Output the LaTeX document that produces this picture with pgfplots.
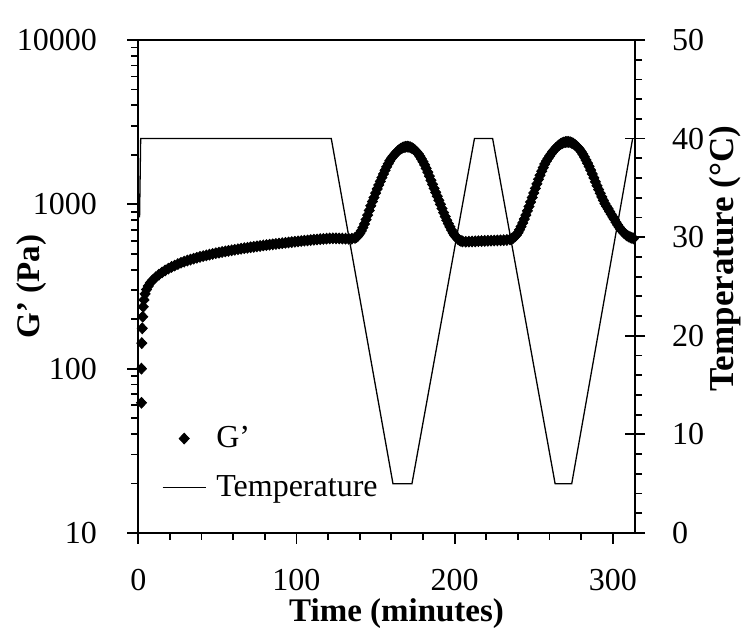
\documentclass[border=0pt]{standalone}
\usepackage{fontspec}
\setmainfont{Liberation Serif}
\usepackage{pgfplots}
\pgfplotsset{compat=1.18}
\newcommand\fs{\fontsize{16}{19}\selectfont}
\pgfplotsset{
  markleg/.style={legend image code/.code={\draw[mark repeat=2, mark phase=2, ##1] plot coordinates {(0pt,0pt) (10.75pt,0pt) (21.5pt,0pt)};}},
  lineleg/.style={legend image code/.code={\draw[##1] (0pt,0pt) -- (21.5pt,0pt);}},
}

% G' (Pa) against time (minutes)
\pgfplotstableread{
t g
2.0 62
2.0 100
2.2 143
2.5 176
2.8 207
3.1 238
3.6 262
4.3 285
5.2 303
6.3 318
7.5 332
9 345
11 360
13 373
15 385
17 396
19 406
21 416
23 424
25 433
27 441
29 448
31 455
33 461
35 467
37 473
39 479
41 484
43 489
45 494
47 499
49 504
51 508
53 513
55 517
57 521
59 525
61 529
63 533
65 537
67 541
69 544
71 548
73 551
75 555
77 558
79 562
81 565
83 568
85 571
87 574
89 577
91 580
93 583
95 586
97 589
99 592
101 595
103 598
105 601
107 603
109 606
111 609
113 611
115 614
117 616
119 618
121 620
123 621
125 621
127 620
129 619
131 618
133 617
135 618
137 625
139 645
141 690
143 760
145 860
147 980
149 1100
151 1240
153 1380
155 1530
157 1690
159 1840
161 1960
163 2060
165 2150
167 2210
169 2240
171 2240
173 2200
175 2130
177 2030
179 1890
181 1740
183 1570
185 1400
187 1250
189 1120
191 1000
193 890
195 800
197 730
199 670
201 630
203 605
205 595
207 592
209 593
211 594
213 595
215 597
217 598
219 599
221 600
223 601
225 602
227 603
229 604
231 605
233 607
235 612
237 625
239 650
241 700
243 770
245 860
247 970
249 1100
251 1250
253 1420
255 1590
257 1760
259 1900
261 2030
263 2150
265 2250
267 2330
269 2380
271 2400
273 2390
275 2340
277 2260
279 2160
281 2020
283 1860
285 1700
287 1530
289 1370
291 1230
293 1110
295 1010
297 940
299 870
301 810
303 750
305 705
307 670
309 645
311 630
313 620
138 633
140 665
142 722
144 808
146 918
148 1040
150 1170
152 1310
154 1455
156 1610
158 1765
160 1905
162 2012
164 2108
166 2183
168 2228
170 2245
172 2224
174 2168
176 2083
178 1962
180 1817
182 1655
184 1485
186 1323
188 1183
190 1058
192 943
194 843
196 763
198 698
200 648
202 616
204 599
236 617
238 636
240 672
242 733
244 813
246 913
248 1033
250 1173
252 1333
254 1503
256 1673
258 1833
260 1967
262 2092
264 2202
266 2292
268 2357
270 2393
272 2398
274 2368
276 2302
278 2212
280 2092
282 1942
284 1780
286 1615
288 1450
290 1297
292 1168
294 1058
296 973
298 903
300 838
302 778
304 726
306 687
308 657
310 637
312 625
}\gdata

% temperature (C) against time (minutes)
\pgfplotstableread{
t T
0.8 32
1.5 40
122 40
161 5
173 5
212.5 40
224 40
263.5 5
274 5
312.5 40
}\tdata

\begin{document}
\begin{tikzpicture}
\useasboundingbox (-69.15pt,-51pt) rectangle (305.85pt,266.5pt);
\pgfplotsset{
  frame/.style={
    at={(0,0)}, anchor=south west, scale only axis,
    width=248.35pt, height=246.5pt, xmin=0, xmax=314,
    axis line style={line width=0.9pt},
    every tick/.append style={black, line width=0.9pt},
    /pgf/number format/assume math mode=true,
    tick label style={font=\fs},
  }
}
\begin{axis}[frame,
  ymode=log, ymin=10, ymax=10000,
  tick align=outside, major tick length=5.5pt, minor tick length=3.5pt,
  xtick pos=lower, ytick pos=left,
  xtick={0,100,200,300}, minor x tick num=4,
  ytick={10,100,1000,10000}, yticklabels={10,100,1000,10000},
  xticklabel style={anchor=base, inner sep=0pt, yshift=-23.5pt},
  yticklabel style={anchor=east, inner sep=0pt, xshift=-15pt},
  xlabel={Time (minutes)},
  xlabel style={at={(axis description cs:0.52,0)}, anchor=base, yshift=-44.5pt, font=\fontsize{16.5}{19}\selectfont\bfseries},
  ylabel={G' (Pa)},
  ylabel style={at={(axis description cs:-0.198,0.5)}, anchor=base, font=\fontsize{16.5}{19}\selectfont\bfseries},
]
\addplot[only marks, mark=diamond*, mark size=2.7pt, mark options={xscale=1.25}, black] table[x=t, y=g] {\gdata};
\end{axis}
\begin{axis}[frame,
  axis x line=none, axis y line*=right,
  ymin=0, ymax=50, ytick={0,10,...,50},
  tick align=center, major tick length=10pt, minor y tick num=0,
  yticklabel style={anchor=west, inner sep=0pt, xshift=13.3pt},
  ylabel={Temperature (°C)},
  ylabel style={at={(axis description cs:1.198,0.557)}, anchor=base, font=\fontsize{17.5}{20}\selectfont\bfseries},
  legend style={draw=none, fill=none, inner sep=0pt, font=\fs,
    at={(axis description cs:0.047,0.217)}, anchor=north west,
    row sep=12.5pt, column sep=5pt, nodes={inner sep=0pt}},
  legend cell align=left,
]
\addlegendimage{only marks, mark=diamond*, mark size=2.7pt, mark options={xscale=1.25}, black, markleg}
\addlegendentry{G'}
\addplot[black, line width=0.65pt, line join=miter, lineleg] table[x=t, y=T] {\tdata};
\addlegendentry{Temperature}
\end{axis}
\begin{axis}[frame,
  axis x line=none, axis y line*=right,
  ymin=0, ymax=50, ytick={0,10,...,50}, yticklabels={},
  tick align=outside, major tick length=0pt, minor tick length=3.5pt,
  minor y tick num=4,
]
\end{axis}
\end{tikzpicture}
\end{document}
